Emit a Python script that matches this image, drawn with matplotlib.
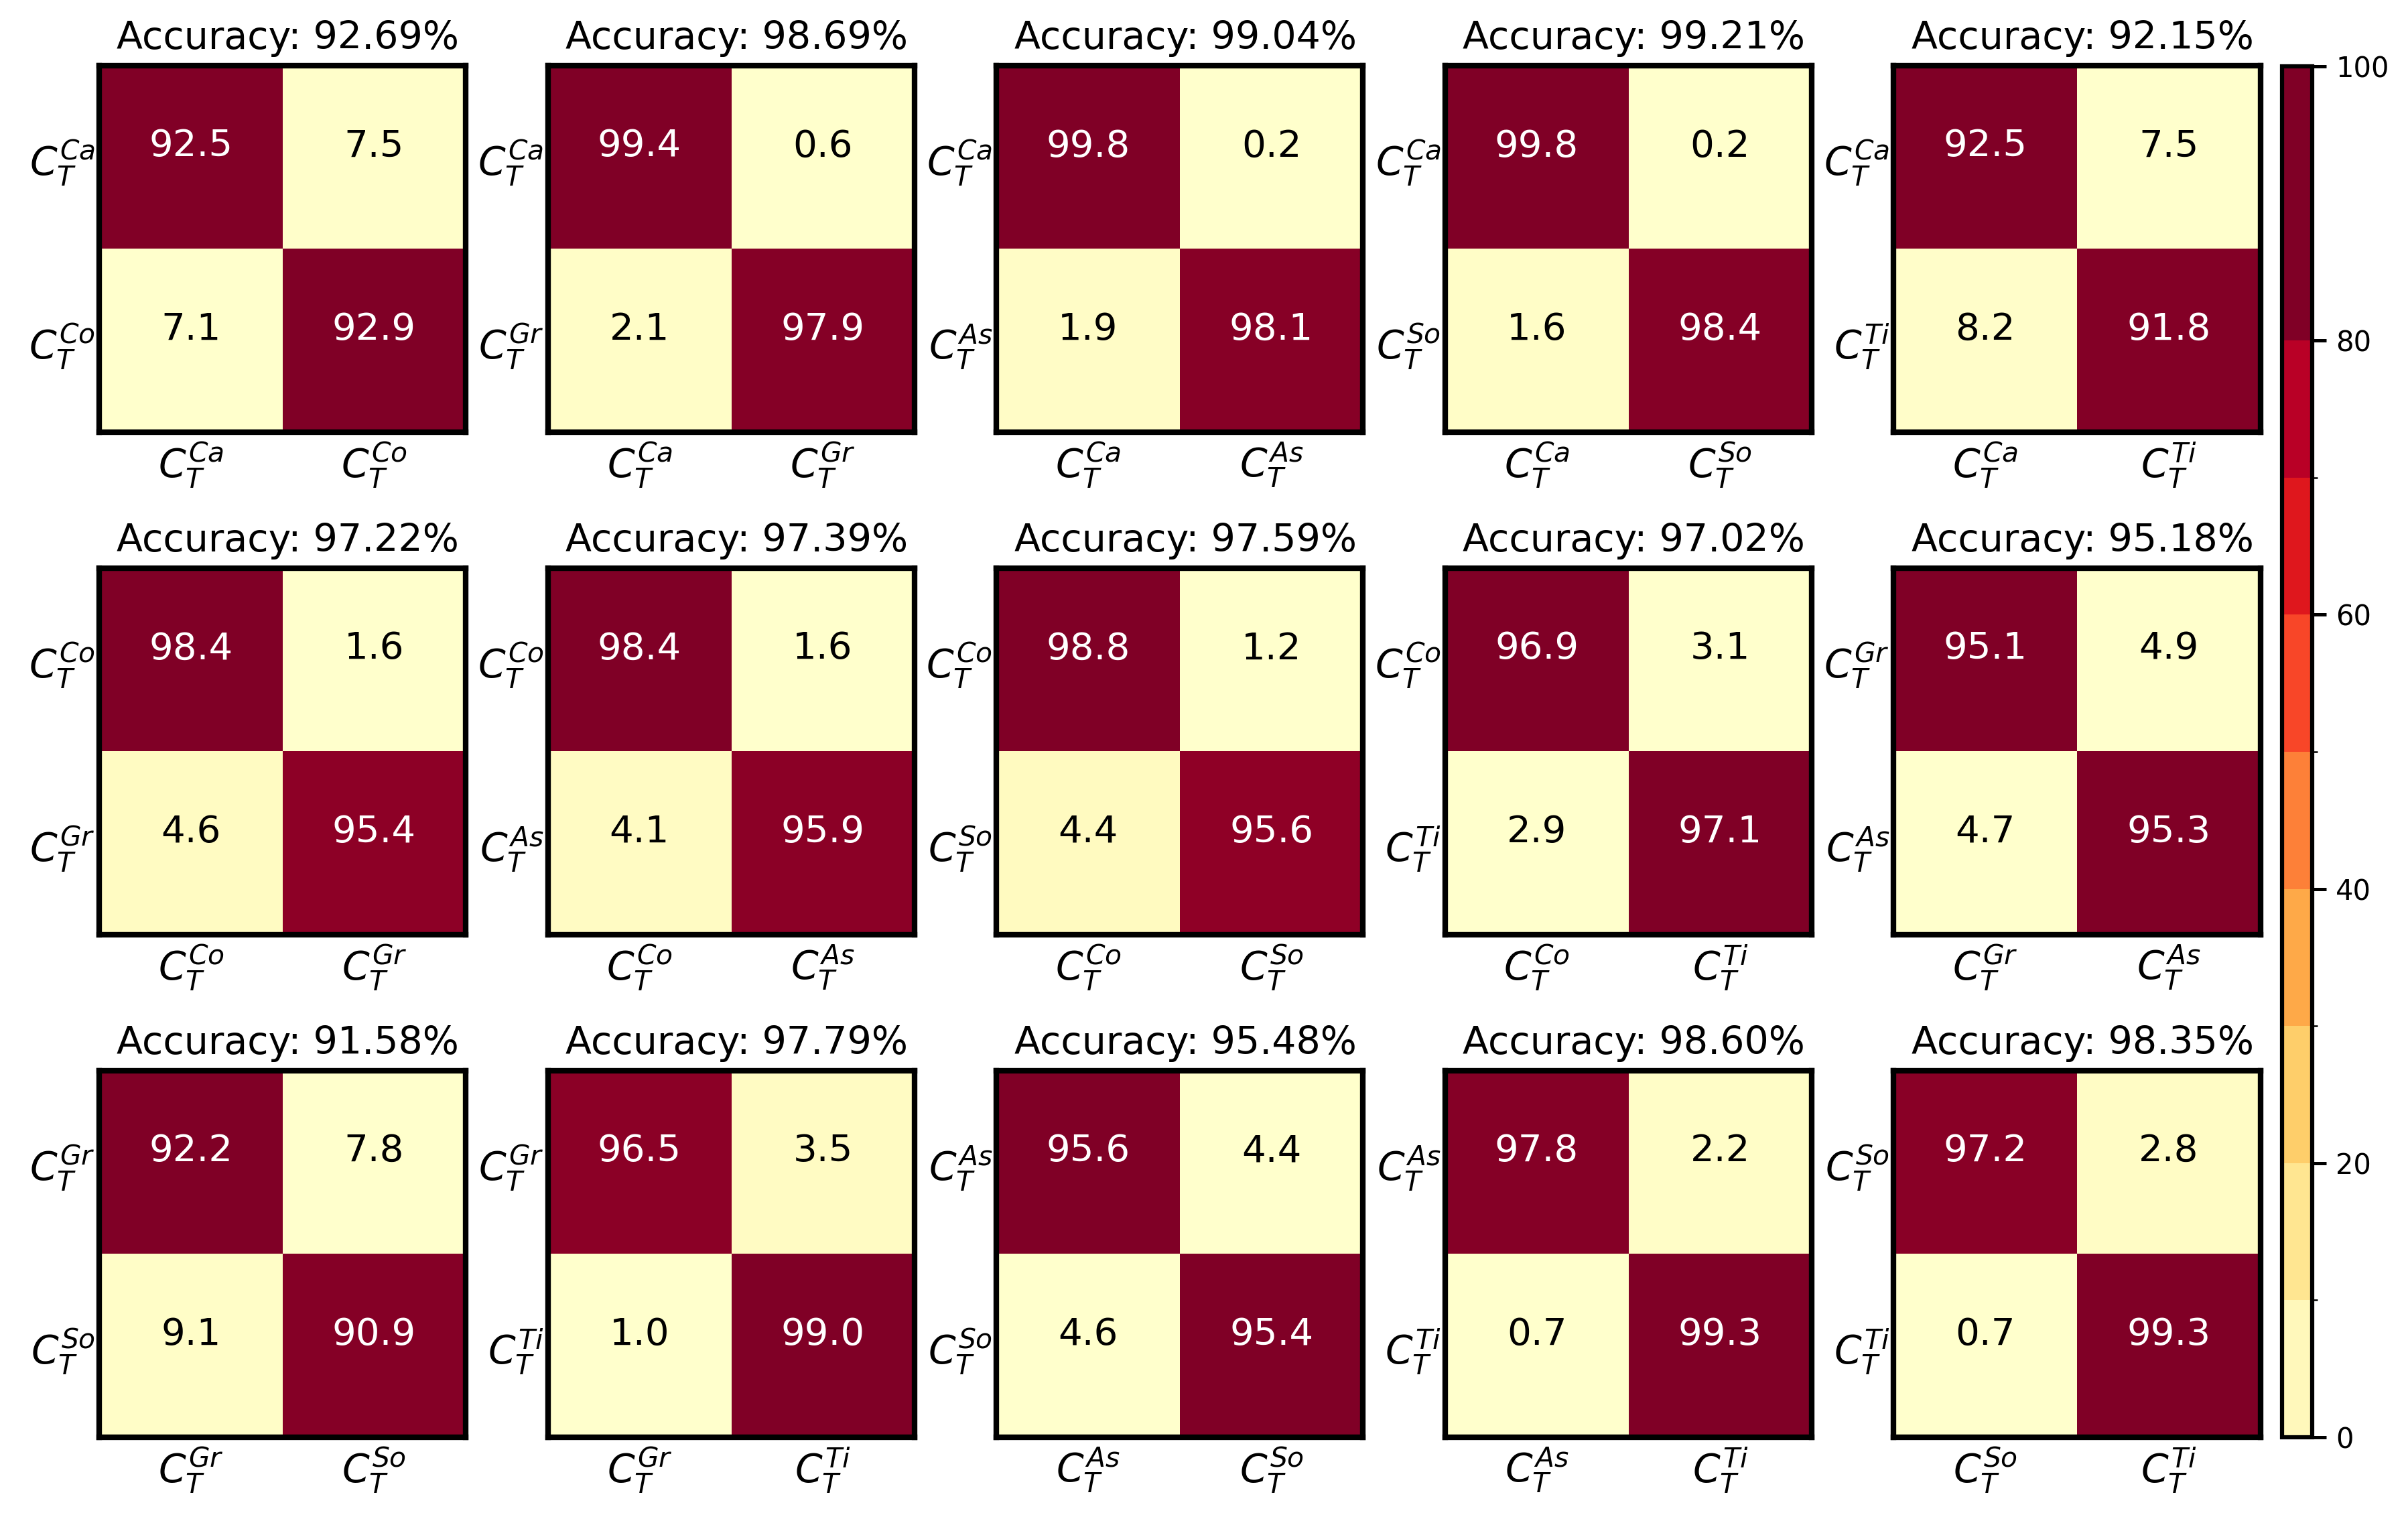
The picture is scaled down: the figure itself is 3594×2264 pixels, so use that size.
import matplotlib
matplotlib.use("Agg")
import matplotlib.pyplot as plt
import numpy as np
from matplotlib.colors import ListedColormap, BoundaryNorm
from matplotlib.cm import ScalarMappable

# class pairs for each panel (row-major, 3 rows x 5 cols)
pairs = [
    ("Ca", "Co"), ("Ca", "Gr"), ("Ca", "As"), ("Ca", "So"), ("Ca", "Ti"),
    ("Co", "Gr"), ("Co", "As"), ("Co", "So"), ("Co", "Ti"), ("Gr", "As"),
    ("Gr", "So"), ("Gr", "Ti"), ("As", "So"), ("As", "Ti"), ("So", "Ti"),
]

accuracies = [92.69, 98.69, 99.04, 99.21, 92.15,
              97.22, 97.39, 97.59, 97.02, 95.18,
              91.58, 97.79, 95.48, 98.60, 98.35]

# confusion matrices in percent
top_left = [92.5, 99.4, 99.8, 99.8, 92.5, 98.4, 98.4, 98.8, 96.9, 95.1, 92.2, 96.5, 95.6, 97.8, 97.2]
top_right = [7.5, 0.6, 0.2, 0.2, 7.5, 1.6, 1.6, 1.2, 3.1, 4.9, 7.8, 3.5, 4.4, 2.2, 2.8]
bottom_left = [7.1, 2.1, 1.9, 1.6, 8.2, 4.6, 4.1, 4.4, 2.9, 4.7, 9.1, 1.0, 4.6, 0.7, 0.7]
bottom_right = [92.9, 97.9, 98.1, 98.4, 91.8, 95.4, 95.9, 95.6, 97.1, 95.3, 90.9, 99.0, 95.4, 99.3, 99.3]

cbar_bounds = [0, 10, 20, 30, 40, 50, 60, 70, 80, 100]
cbar_ticks = [0, 20, 40, 60, 80, 100]

W, H = 3595, 2264
fig = plt.figure(figsize=(W / 300, H / 300), dpi=300)

ax_w = 0.1522
ax_h = 0.2416
lefts = [0.0412 + i * 0.18625 for i in range(5)]
bottoms = [0.7151, 0.3838, 0.0526]

for k in range(15):
    r, c = divmod(k, 5)
    ax = fig.add_axes([lefts[c], bottoms[r], ax_w, ax_h])
    cm = np.array([[top_left[k], top_right[k]],
                   [bottom_left[k], bottom_right[k]]])
    ax.imshow(cm, cmap="YlOrRd", aspect="auto", interpolation="nearest")
    thresh = cm.max() / 2
    for i in range(2):
        for j in range(2):
            # numbers sit a little above the cell centre in the original
            ax.text(j, i - 0.06, f"{cm[i, j]:.1f}", ha="center", va="center",
                    fontsize=13.5, color="white" if cm[i, j] > thresh else "black")
    labels = [r"$C_T^{%s}$" % pairs[k][0], r"$C_T^{%s}$" % pairs[k][1]]
    ax.set_xticks([0, 1])
    ax.set_yticks([0, 1])
    ax.set_xticklabels(labels, fontsize=14)
    ax.set_yticklabels(labels, fontsize=14)
    ax.tick_params(axis="both", length=0)
    ax.tick_params(axis="y", pad=1.5)
    ax.tick_params(axis="x", pad=3)
    for s in ax.spines.values():
        s.set_linewidth(2)
    ax.set_title(f"Accuracy: {accuracies[k]:.2f}%", fontsize=13.7, pad=6, x=0.515)

# discrete colourbar on the right
base = plt.get_cmap("YlOrRd")
band_colors = [base(v) for v in np.linspace(0.05, 1.0, 9)]
cmap_bar = ListedColormap(band_colors)
norm_bar = BoundaryNorm(cbar_bounds, cmap_bar.N)
cax = fig.add_axes([0.9474, 0.0526, 0.0125, 0.9037])
sm = ScalarMappable(norm=norm_bar, cmap=cmap_bar)
cb = fig.colorbar(sm, cax=cax, spacing="proportional", ticks=cbar_ticks)
cb.outline.set_linewidth(1.5)
cb.ax.tick_params(labelsize=10, width=1.2, length=5)

fig.savefig("out.png", dpi=300)
